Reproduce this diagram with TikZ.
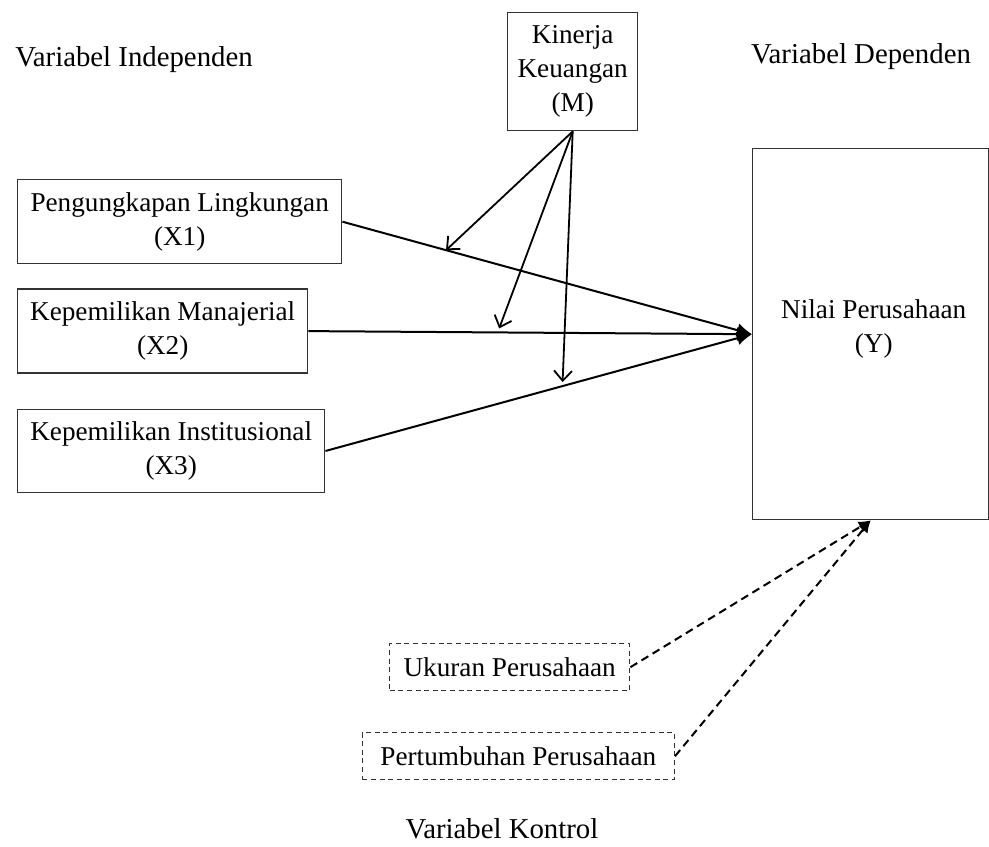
\documentclass[tikz,border=0pt]{standalone}
\usepackage{fontspec}
\setmainfont{Liberation Serif}
\usetikzlibrary{arrows.meta}
\usetikzlibrary{positioning}
\usetikzlibrary{calc}

\begin{document}
\begin{tikzpicture}[x=0.5pt, y=-0.5pt,
varbox/.style={draw=black!80, line width=0.7pt, align=center, inner sep=2pt, font=\fontsize{13.6}{17}\selectfont},
dashbox/.style={varbox, dash pattern=on 2.5pt off 1.8pt},
head/.style={font=\fontsize{14.4}{17}\selectfont, anchor=base},
link/.style={line width=1pt, -{Latex[length=7.5pt, width=7pt]}},
moder/.style={line width=0.9pt, -{Straight Barb[length=5pt, width=9pt]}},
ctrl/.style={line width=1pt, dash pattern=on 4pt off 2.5pt, -{Latex[length=6pt, width=6pt]}},
]
\useasboundingbox (0,0) rectangle (989,846);
% judul kelompok variabel
\node[head](lind) at (134,66) {Variabel Independen};
\node[head](ldep) at (861,63) {Variabel Dependen};
\node[head](lkon) at (502,838) {Variabel Kontrol};
% variabel
\node[varbox, minimum width=162pt, minimum height=42pt, anchor=north west](x1) at (17,179) {Pengungkapan Lingkungan\\(X1)};
\node[varbox, minimum width=145pt, minimum height=42pt, below=12pt of x1.south west, anchor=north west](x2) {Kepemilikan Manajerial\\(X2)};
\node[varbox, minimum width=153.5pt, minimum height=41.5pt, below=17.5pt of x2.south west, anchor=north west](x3) {Kepemilikan Institusional\\(X3)};
\node[varbox, minimum width=65pt, minimum height=59pt, anchor=north west](m) at (507,12) {Kinerja\\Keuangan\\(M)};
\node[varbox, minimum width=118pt, minimum height=185.5pt, anchor=north west](y) at (752,148) {};
\node[align=center, font=\fontsize{13.6}{17}\selectfont](ytext) at ($(y.center)+(3,-5)$) {Nilai Perusahaan\\(Y)};
\node[dashbox, minimum width=120pt, minimum height=23.5pt, anchor=north west](uk) at (389,643) {Ukuran Perusahaan};
\node[dashbox, minimum width=156pt, minimum height=23.5pt, anchor=north east](pt) at (675,732) {Pertumbuhan Perusahaan};
% titik moderasi
\coordinate (c1) at ($(x1.east)!0.253!(y.west)$);
\coordinate (c2) at ($(x2.east)!0.43!(y.west)+(0,-4)$);
\coordinate (c3) at ($(x3.east)!0.556!(y.west)+(0,-4)$);
\draw[link] (x1.east) -- (y.west);
\draw[link] (x2.east) -- (y.west);
\draw[link] (x3.east) -- (y.west);
\draw[moder] (m.south) -- (c1);
\draw[moder] (m.south) -- (c2);
\draw[moder] (m.south) -- (c3);
\draw[ctrl] (uk.east) -- (y.south);
\draw[ctrl] (pt.east) -- (y.south);
\end{tikzpicture}
\end{document}
